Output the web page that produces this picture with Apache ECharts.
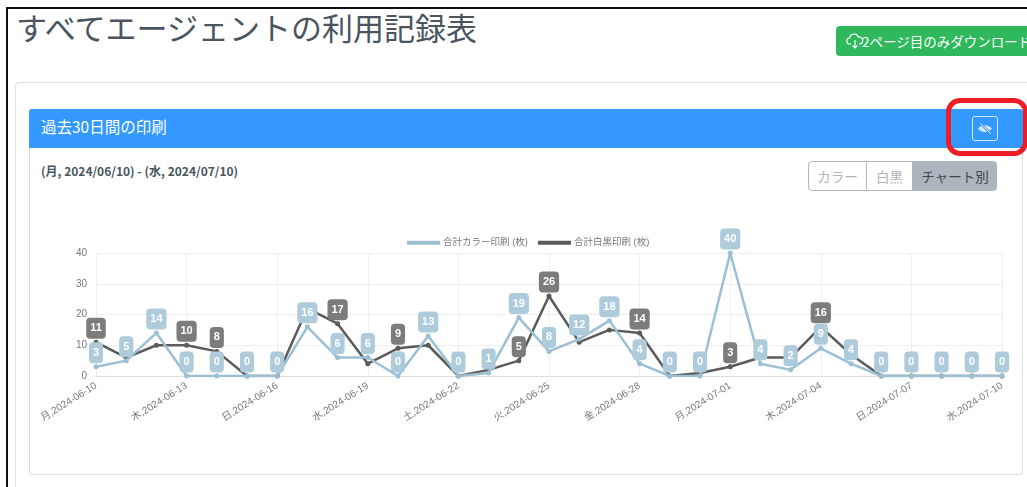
<!DOCTYPE html>
<html>
<head>
<meta charset="utf-8">
<title>すべてエージェントの利用記録表</title>
<script src="https://cdn.jsdelivr.net/npm/echarts@6/dist/echarts.min.js"></script>
<style>
html, body { margin: 0; padding: 0; background: #fff; overflow: hidden; }
body { width: 1027px; height: 487px; position: relative; font-family: "Noto Sans CJK JP", "Noto Sans", sans-serif; color: #495057; }
.abs { position: absolute; box-sizing: border-box; }
#frame { left: 6px; top: 7px; width: 1030px; height: 500px; border: 2px solid #111; }
#title { left: 16px; top: 5px; font-size: 31px; line-height: 44px; white-space: nowrap; color: #4a5560; }
#download { left: 836px; top: 26px; width: 200px; height: 30px; background: #2fb85c; border-radius: 4px; color: #fff; font-size: 13.5px; line-height: 30px; padding-left: 26px; white-space: nowrap; }
#download svg { position: absolute; left: 10px; top: 6px; }
#outer { left: 15px; top: 82px; width: 1030px; height: 420px; border: 1px solid #ddd; border-radius: 4px; }
#panel { left: 29px; top: 109px; width: 994px; height: 366px; border: 1px solid #ddd; border-top: 0; border-radius: 4px; }
#head { left: 29px; top: 109px; width: 994px; height: 39px; background: #3399ff; border-radius: 3px 3px 0 0; color: #fff; font-size: 15.5px; line-height: 35px; padding-left: 12px; }
#eye { left: 972px; top: 116px; width: 26px; height: 25px; border: 1px solid #d5e8ff; border-radius: 3px; }
#red { left: 946px; top: 98px; width: 82px; height: 58px; border: 5px solid #ee1c25; border-radius: 14px; }
#range { left: 41px; top: 162px; font-size: 12px; font-weight: 700; line-height: 18px; white-space: nowrap; color: #4a5560; }
#btns { left: 808px; top: 161px; width: 189px; height: 30px; display: flex; font-size: 13.5px; line-height: 28px; text-align: center; }
#btns div { box-sizing: border-box; border: 1px solid #adb5bd; color: #adb5bd; background: #fff; }
#btns .a { width: 59px; border-radius: 4px 0 0 4px; }
#btns .b { width: 46px; border-left: 0; }
#btns .c { width: 84px; background: #adb5bd; color: #3f4650; border-radius: 0 4px 4px 0; }
#chart { left: 30px; top: 200px; width: 990px; height: 270px; }
</style>
</head>
<body>
<div class="abs" id="frame"></div>
<div class="abs" id="title">すべてエージェントの利用記録表</div>
<div class="abs" id="download">
  <svg width="18" height="18" viewBox="0 0 18 18" fill="none" stroke="#fff" stroke-width="1.2"><path d="M5 12H4a3 3 0 0 1-.4-6A4.5 4.5 0 0 1 12.3 5 3.5 3.5 0 0 1 14 12h-1"/><path d="M9 8v8M6.5 13.5 9 16l2.500-2.500"/></svg>
  2ページ目のみダウンロード
</div>
<div class="abs" id="outer"></div>
<div class="abs" id="panel"></div>
<div class="abs" id="head">過去30日間の印刷</div>
<div class="abs" id="eye">
  <svg width="24" height="23" viewBox="0 0 24 23" fill="#d5e8ff" stroke="none"><path d="M5 11.500C8 7 15 7 19 11.500 15 16 8 16 5 11.500z"/><path d="M7 6l11 11" stroke="#3399ff" stroke-width="2.400"/><path d="M7 6l11 11" stroke="#d5e8ff" stroke-width="1"/></svg>
</div>
<div class="abs" id="red"></div>
<div class="abs" id="range">(月, 2024/06/10) - (水, 2024/07/10)</div>
<div class="abs" id="btns"><div class="a">カラー</div><div class="b">白黒</div><div class="c">チャート別</div></div>
<div class="abs" id="chart"></div>
<script>
var categories = ['月,2024-06-10','火,2024-06-11','水,2024-06-12','木,2024-06-13','金,2024-06-14','土,2024-06-15','日,2024-06-16',
    '月,2024-06-17','火,2024-06-18','水,2024-06-19','木,2024-06-20','金,2024-06-21','土,2024-06-22','日,2024-06-23',
    '月,2024-06-24','火,2024-06-25','水,2024-06-26','木,2024-06-27','金,2024-06-28','土,2024-06-29','日,2024-06-30',
    '月,2024-07-01','火,2024-07-02','水,2024-07-03','木,2024-07-04','金,2024-07-05','土,2024-07-06','日,2024-07-07',
    '月,2024-07-08','火,2024-07-09','水,2024-07-10'];
var colorPrints = [3,5,14,0,0,0,0,16,6,6,0,13,0,1,19,8,12,18,4,0,0,40,4,2,9,4,0,0,0,0,0];
var monoPrints = [11,6,10,10,8,0,0,22,17,4,9,10,0,2,5,26,11,15,14,0,1,3,6,6,16,7,0,0,0,0,0];
// the black and white labels that are not covered in the picture
var monoLabelled = ['月,2024-06-10','木,2024-06-13','金,2024-06-14','火,2024-06-18','木,2024-06-20','月,2024-06-24','火,2024-06-25','金,2024-06-28','月,2024-07-01','木,2024-07-04'];
var yTicks = { min: 0, max: 40, interval: 10 };

var labelFont = { color: '#fff', fontSize: 11, fontWeight: 'bold', fontFamily: 'Liberation Sans', padding: [4, 4], lineHeight: 13, borderRadius: 4 };
var axisFont = { color: '#777', fontSize: 10, fontFamily: '"Liberation Sans","Noto Sans CJK JP"' };

var chart = echarts.init(document.getElementById('chart'), null, { renderer: 'canvas' });
chart.setOption({
    animation: false,
    legend: {
        left: 372, top: 33, itemWidth: 33, itemHeight: 4, itemGap: 10,
        icon: 'rect',
        textStyle: { color: '#777', fontSize: 9.5, fontFamily: '"Liberation Sans","Noto Sans CJK JP"', padding: [0, 0, 0, -2] },
        data: ['合計カラー印刷 (枚)', '合計白黒印刷 (枚)']
    },
    grid: { left: 66, right: 18, top: 53, height: 123 },
    xAxis: {
        type: 'category',
        data: categories,
        boundaryGap: false,
        axisLine: { lineStyle: { color: '#ddd' } },
        axisTick: { show: false },
        splitLine: { show: true, interval: 2, lineStyle: { color: '#eee' } },
        axisLabel: Object.assign({ interval: 2, rotate: 32, margin: 9 }, axisFont)
    },
    yAxis: {
        type: 'value',
        min: yTicks.min, max: yTicks.max, interval: yTicks.interval,
        axisLine: { show: false },
        axisTick: { show: false },
        splitLine: { lineStyle: { color: '#eee' } },
        axisLabel: Object.assign({ margin: 9 }, axisFont)
    },
    series: [
        {
            name: '合計白黒印刷 (枚)',
            type: 'line', z: 2,
            symbol: 'circle', symbolSize: 5,
            itemStyle: { color: '#5b5b5b' },
            lineStyle: { color: '#5b5b5b', width: 2.5 },
            label: Object.assign({ position: 'top', distance: 1, backgroundColor: '#7c7c7c' }, labelFont),
            data: monoPrints.map(function (v, i) {
                return { value: v, label: { show: monoLabelled.indexOf(categories[i]) >= 0 } };
            })
        },
        {
            name: '合計カラー印刷 (枚)',
            type: 'line', z: 3,
            symbol: 'circle', symbolSize: 5,
            itemStyle: { color: '#9bc0d4' },
            lineStyle: { color: '#9bc0d4', width: 2.5 },
            label: Object.assign({ show: true, position: 'top', distance: 1, backgroundColor: '#aecbdb' }, labelFont),
            data: colorPrints
        }
    ]
});
</script>
</body>
</html>
